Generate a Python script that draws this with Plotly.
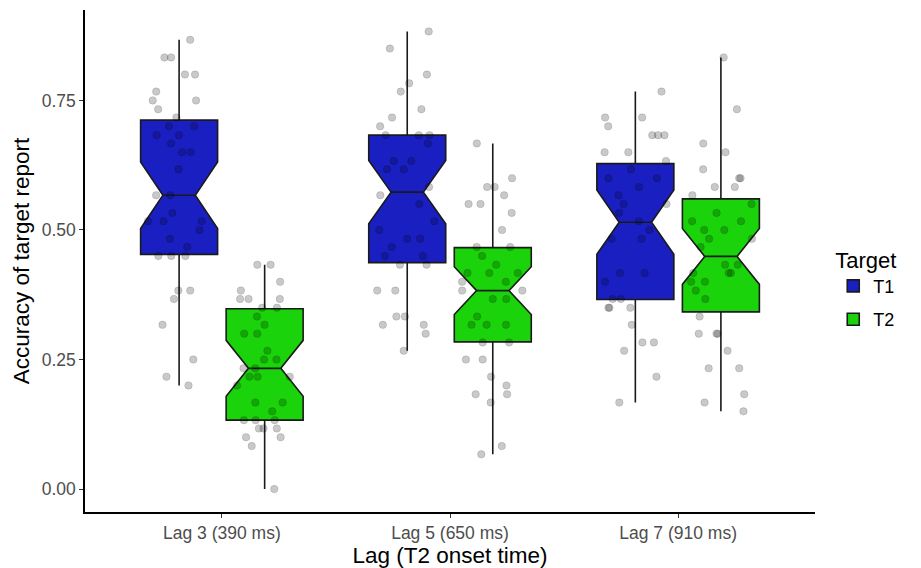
import plotly.graph_objects as go

categories = ["Lag 3 (390 ms)", "Lag 5 (650 ms)", "Lag 7 (910 ms)"]
targets = ["T1", "T2"]

# Box statistics (per lag)
t1_q1 = [0.453, 0.437, 0.366]
t1_median = [0.567, 0.573, 0.515]
t1_q3 = [0.712, 0.683, 0.628]
t1_lower = [0.200, 0.267, 0.167]
t1_upper = [0.867, 0.883, 0.767]
t1_notch = [0.064, 0.061, 0.062]

t2_q1 = [0.133, 0.284, 0.342]
t2_median = [0.233, 0.383, 0.449]
t2_q3 = [0.348, 0.466, 0.560]
t2_lower = [0.000, 0.067, 0.150]
t2_upper = [0.433, 0.667, 0.833]
t2_notch = [0.054, 0.046, 0.054]

# Individual participant accuracies (jittered points)
t1_lag3 = [0.867, 0.833, 0.833, 0.800, 0.800, 0.767, 0.750, 0.750, 0.733, 0.717, 0.700, 0.700,
           0.683, 0.683, 0.667, 0.650, 0.650, 0.617, 0.567, 0.567, 0.533, 0.517, 0.517, 0.517,
           0.500, 0.483, 0.467, 0.450, 0.450, 0.450, 0.383, 0.383, 0.367, 0.317, 0.250, 0.217, 0.200]
t2_lag3 = [0.433, 0.433, 0.400, 0.383, 0.367, 0.367, 0.367, 0.350, 0.350, 0.333, 0.317, 0.300,
           0.300, 0.267, 0.250, 0.250, 0.233, 0.233, 0.217, 0.217, 0.217, 0.200, 0.167, 0.167,
           0.150, 0.133, 0.133, 0.133, 0.117, 0.117, 0.117, 0.100, 0.100, 0.083, 0.000]
t1_lag5 = [0.883, 0.850, 0.800, 0.783, 0.767, 0.733, 0.717, 0.700, 0.683, 0.683, 0.683, 0.667,
           0.633, 0.633, 0.617, 0.617, 0.583, 0.567, 0.550, 0.517, 0.500, 0.483, 0.483, 0.467,
           0.450, 0.450, 0.433, 0.433, 0.383, 0.383, 0.333, 0.333, 0.317, 0.317, 0.300, 0.267]
t2_lag5 = [0.667, 0.600, 0.583, 0.583, 0.567, 0.550, 0.550, 0.533, 0.500, 0.467, 0.467, 0.450,
           0.433, 0.417, 0.417, 0.417, 0.400, 0.400, 0.383, 0.383, 0.367, 0.367, 0.333, 0.317,
           0.317, 0.317, 0.283, 0.283, 0.250, 0.250, 0.217, 0.200, 0.183, 0.183, 0.167, 0.083, 0.067]
t1_lag7 = [0.767, 0.717, 0.717, 0.700, 0.683, 0.683, 0.683, 0.650, 0.650, 0.633, 0.617, 0.600,
           0.600, 0.583, 0.567, 0.550, 0.550, 0.533, 0.517, 0.500, 0.483, 0.483, 0.417, 0.417,
           0.400, 0.367, 0.367, 0.350, 0.350, 0.350, 0.317, 0.283, 0.283, 0.267, 0.217, 0.167]
t2_lag7 = [0.833, 0.733, 0.667, 0.650, 0.617, 0.600, 0.600, 0.583, 0.583, 0.567, 0.550, 0.533,
           0.517, 0.517, 0.500, 0.500, 0.483, 0.483, 0.467, 0.433, 0.433, 0.417, 0.417, 0.417,
           0.400, 0.400, 0.383, 0.367, 0.333, 0.300, 0.300, 0.300, 0.267, 0.233, 0.233, 0.183,
           0.167, 0.150]

y_ticks = [0.0, 0.25, 0.5, 0.75]
y_tick_labels = ["0.00", "0.25", "0.50", "0.75"]

colors = {"T1": "#1A1FC2", "T2": "#1AD30A"}
FONT = "Liberation Sans, Arial, sans-serif"

fig = go.Figure()

stats = {
    "T1": (t1_q1, t1_median, t1_q3, t1_lower, t1_upper, t1_notch),
    "T2": (t2_q1, t2_median, t2_q3, t2_lower, t2_upper, t2_notch),
}
for tg in targets:
    q1, med, q3, lo, hi, nt = stats[tg]
    fig.add_trace(go.Box(
        name=tg, x=categories, q1=q1, median=med, q3=q3,
        lowerfence=lo, upperfence=hi, notchspan=nt,
        notched=True, notchwidth=0.29, whiskerwidth=0,
        boxpoints=False, fillcolor=colors[tg],
        line=dict(color="#1a1a1a", width=1.6),
        offsetgroup=tg, alignmentgroup="a", showlegend=True, legendgroup=tg,
    ))

points = {
    "T1": [t1_lag3, t1_lag5, t1_lag7],
    "T2": [t2_lag3, t2_lag5, t2_lag7],
}
for tg in targets:
    xs, ys = [], []
    for cat, vals in zip(categories, points[tg]):
        xs += [cat] * len(vals)
        ys += vals
    fig.add_trace(go.Box(
        name=tg, x=xs, y=ys, boxpoints="all", jitter=0.9, pointpos=0,
        fillcolor="rgba(0,0,0,0)", line=dict(width=0, color="rgba(0,0,0,0)"),
        marker=dict(color="rgba(0,0,0,0.21)", size=7.5,
                    line=dict(color="rgba(0,0,0,0.12)", width=1)),
        offsetgroup=tg, alignmentgroup="a", showlegend=False, hoveron="points",
        legendgroup=tg,
    ))

fig.update_layout(
    width=913, height=560,
    boxmode="group", boxgap=0.25, boxgroupgap=0.1,
    plot_bgcolor="white", paper_bgcolor="white",
    margin=dict(l=77, r=106, t=2, b=56, autoexpand=False),
    font=dict(family=FONT, color="black"),
    xaxis=dict(
        type="category", categoryorder="array", categoryarray=categories,
        range=[-0.6, 2.6], showgrid=False, zeroline=False,
        showline=True, linecolor="black", linewidth=1.5,
        ticks="outside", ticklen=4, tickcolor="#333333", tickwidth=1.2,
        tickfont=dict(size=17.5, color="#4D4D4D", family=FONT),
        title=dict(text="Lag (T2 onset time)", font=dict(size=22.5, color="black", family=FONT), standoff=3),
    ),
    yaxis=dict(
        range=[-0.0442, 0.9245], showgrid=False, zeroline=False,
        showline=True, linecolor="black", linewidth=1.5,
        ticks="outside", ticklen=4, tickcolor="#333333", tickwidth=1.2,
        tickvals=y_ticks, ticktext=y_tick_labels,
        tickfont=dict(size=17.5, color="#4D4D4D", family=FONT),
        title=dict(text="Accuracy of target report", font=dict(size=22.5, color="black", family=FONT), standoff=6),
    ),
    legend=dict(
        title=dict(text="Target", font=dict(size=22, family=FONT)),
        font=dict(size=18, family=FONT),
        x=1.025, xanchor="left", y=0.445, yanchor="middle",
        traceorder="grouped", tracegroupgap=7,
        bgcolor="rgba(0,0,0,0)",
    ),
)

fig.write_html("out.html")
